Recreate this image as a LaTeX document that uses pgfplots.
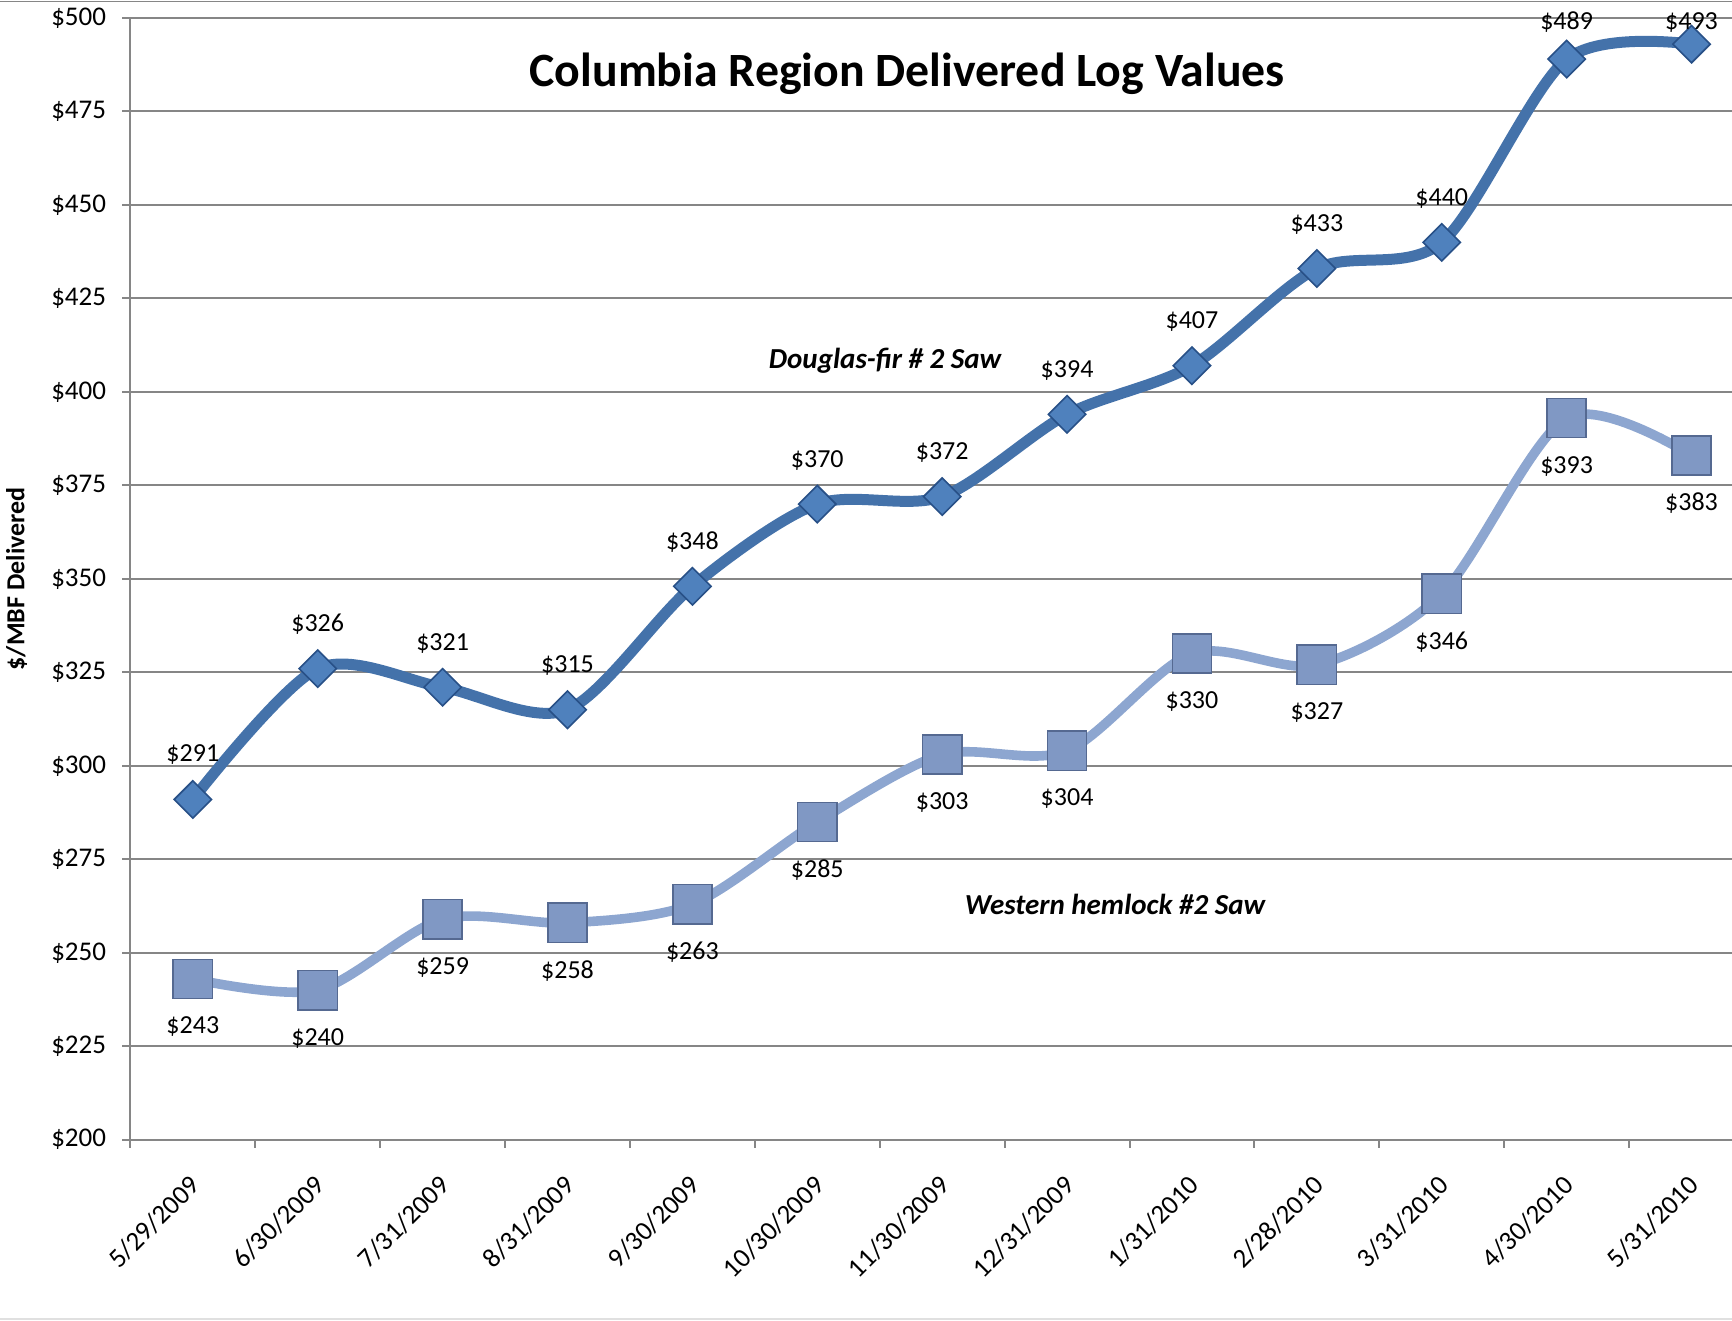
\documentclass[border=0pt]{standalone}
\usepackage{pgfplots}
\pgfplotsset{compat=1.18}
\usepackage{pgfplotstable}
\usepackage{fontspec}
\setmainfont{Carlito}
\definecolor{dfline}{RGB}{68,114,170}
\definecolor{dfmark}{RGB}{79,129,189}
\definecolor{dfedge}{RGB}{40,80,135}
\definecolor{whline}{RGB}{141,166,208}
\definecolor{whmark}{RGB}{128,152,196}
\definecolor{whedge}{RGB}{85,105,145}
\definecolor{gridgray}{RGB}{134,134,134}

\pgfplotstableread{
x y off
0 291 22.5
1 326 22
2 321 22
3 315 22
4 348 22
5 370 22
6 372 22
7 394 22
8 407 22
9 433 22
10 440 22
11 489 18.4
12 493 10.9
}\dftable

\pgfplotstableread{
x y off
0 243 -24
1 240 -24
2 259 -24
3 258 -24
4 263 -24
5 285 -24
6 303 -24
7 304 -24
8 330 -24
9 327 -24
10 346 -24
11 393 -24
12 383 -24
}\whtable

\begin{document}
\begin{tikzpicture}
\path[use as bounding box] (-65.2pt,-90.5pt) rectangle (801pt,570pt);
\draw[gridgray, line width=0.7pt] (-65.2pt,569.1pt) -- (801pt,569.1pt);
\draw[black!12, line width=0.7pt] (-65.2pt,-89.6pt) -- (801pt,-89.6pt);
\begin{axis}[
  at={(0pt,0pt)}, anchor=south west,
  scale only axis,
  width=801pt, height=561pt,
  xmin=-0.5, xmax=12.324,
  ymin=200, ymax=500,
  clip=false,
  axis x line=bottom, axis y line=left,
  axis line style={draw=gridgray, line width=1pt, -},
  ymajorgrids,
  grid style={draw=gridgray, line width=1pt},
  tick align=outside,
  major tick length=4pt,
  minor tick length=4pt,
  tick style={draw=gridgray, line width=1pt},
  major x tick style={draw=none},
  xtick={0,...,12},
  xticklabels={5/29/2009,6/30/2009,7/31/2009,8/31/2009,9/30/2009,10/30/2009,11/30/2009,12/31/2009,1/31/2010,2/28/2010,3/31/2010,4/30/2010,5/31/2010},
  minor xtick={-0.5,0.5,...,11.5},
  ytick={200,225,...,500},
  yticklabels={\$200,\$225,\$250,\$275,\$300,\$325,\$350,\$375,\$400,\$425,\$450,\$475,\$500},
  ticklabel style={font=\fontsize{13.5}{16}\selectfont},
  xticklabel style={xshift=-2.3pt, yshift=-12.8pt, rotate=45, anchor=north east, inner sep=0pt},
  yticklabel style={anchor=east, inner sep=0pt, xshift=-8pt},
  /pgf/number format/assume math mode=true,
  point meta=y,
  nodes near coords={\$\pgfmathprintnumber{\pgfplotspointmeta}},
  every node near coord/.append style={font=\fontsize{13}{15}\selectfont, anchor=center, yshift=\myoff pt, text=black},
  visualization depends on={\thisrow{off}\as\myoff},
]
\addplot[smooth, color=whline, line width=4.8pt, mark=square*, mark size=9.8pt,
  mark options={fill=whmark, draw=whedge, line width=0.8pt}]
  table[x=x, y=y] {\whtable};
\addplot[smooth, color=dfline, line width=5.5pt, mark=square*, mark size=6.6pt,
  mark options={rotate=45, fill=dfmark, draw=dfedge, line width=0.8pt}]
  table[x=x, y=y] {\dftable};
\node[font=\fontsize{23.9}{28}\selectfont\bfseries] at (axis cs:5.72,485) {Columbia Region Delivered Log Values};
\node[font=\fontsize{14.5}{17}\selectfont\bfseries\itshape] at (axis cs:5.543,408.2) {Douglas-fir \# 2 Saw};
\node[font=\fontsize{14.5}{17}\selectfont\bfseries\itshape] at (axis cs:7.384,263) {Western hemlock \#2 Saw};
\end{axis}
\node[rotate=90, font=\fontsize{13}{16}\selectfont\bfseries] at (-56.9pt,280.5pt) {\$/MBF Delivered};
\end{tikzpicture}
\end{document}
